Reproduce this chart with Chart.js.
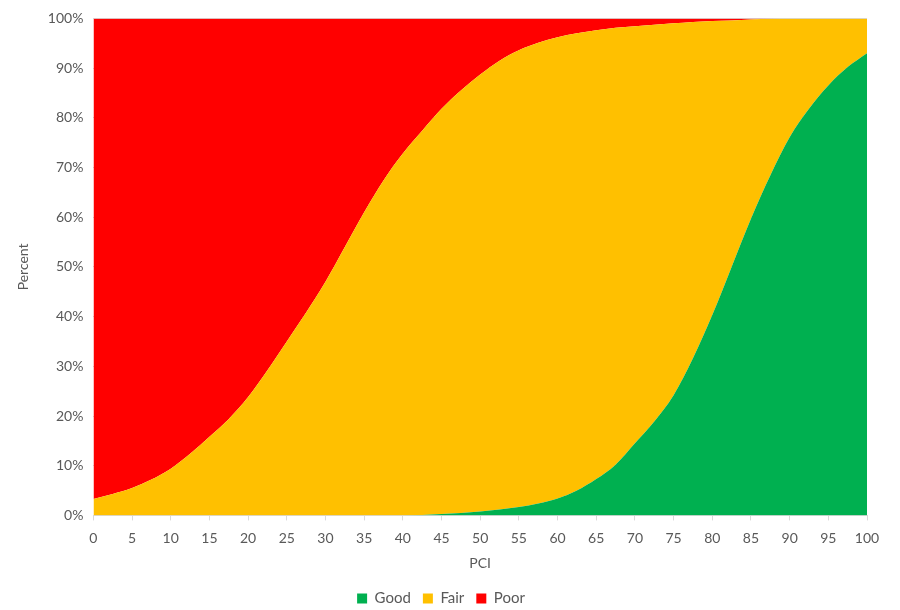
<!DOCTYPE html>
<html>
<head>
<meta charset="utf-8">
<script src="https://cdn.jsdelivr.net/npm/chart.js@4/dist/chart.umd.min.js"></script>
<style>
  html, body { margin: 0; padding: 0; background: #fff; }
  #wrap { width: 900px; height: 610px; }
</style>
</head>
<body>
<div id="wrap"><canvas id="pciChart" width="900" height="610"></canvas></div>
<script>
// PCI values (x axis)
const pci = [0, 2.5, 5, 7.5, 10, 12.5, 15, 17.5, 20, 22.5, 25, 27.5, 30, 32.5, 35, 37.5, 40,
  42.5, 45, 47.5, 50, 52.5, 55, 57.5, 60, 62.5, 65, 67.5, 70, 72.5, 75, 77.5, 80,
  82.5, 85, 87.5, 90, 92.5, 95, 97.5, 100];

// percent of sections in each condition class
const good = [0, 0, 0, 0, 0, 0, 0, 0, 0, 0, 0, 0, 0, 0, 0, 0, 0,
  0.1, 0.3, 0.5, 0.8, 1.2, 1.7, 2.4, 3.4, 5.0, 7.3, 10.2, 14.5, 18.9, 24.2, 31.6, 40.3,
  50.0, 59.7, 68.4, 76.1, 81.8, 86.5, 90.2, 93.0];
const fair = [3.3, 4.3, 5.5, 7.2, 9.4, 12.4, 15.8, 19.4, 23.8, 29.2, 35.0, 40.8, 47.0, 54.0, 61.0, 67.4, 72.8,
  77.3, 81.5, 85.0, 87.9, 90.3, 91.9, 92.7, 92.8, 92.0, 90.3, 87.9, 83.9, 79.8, 74.8, 67.7, 59.2,
  49.6, 40.1, 31.55, 23.9, 18.2, 13.5, 9.8, 7.0];
const poor = [96.7, 95.7, 94.5, 92.8, 90.6, 87.6, 84.2, 80.6, 76.2, 70.8, 65.0, 59.2, 53.0, 46.0, 39.0, 32.6, 27.2,
  22.6, 18.2, 14.5, 11.3, 8.5, 6.4, 4.9, 3.8, 3.0, 2.4, 1.9, 1.6, 1.3, 1.0, 0.7, 0.5,
  0.4, 0.2, 0.05, 0, 0, 0, 0, 0];

const xTicks = [0, 5, 10, 15, 20, 25, 30, 35, 40, 45, 50, 55, 60, 65, 70, 75, 80, 85, 90, 95, 100];

const textColor = "#595959";
const fontFace = "Lato, 'Open Sans', sans-serif";

function pts(vals) {
  return pci.map((x, i) => ({ x: x, y: vals[i] }));
}

function areaSet(label, vals, color, fill) {
  return {
    label: label,
    data: pts(vals),
    backgroundColor: color,
    borderColor: color,
    borderWidth: 0,
    pointRadius: 0,
    fill: fill,
    cubicInterpolationMode: "monotone"
  };
}

const ctx = document.getElementById("pciChart").getContext("2d");

new Chart(ctx, {
  type: "line",
  data: {
    datasets: [
      areaSet("Good", good, "#00b050", "origin"),
      areaSet("Fair", fair, "#ffc000", "-1"),
      areaSet("Poor", poor, "#ff0000", "-1")
    ]
  },
  options: {
    responsive: false,
    animation: false,
    layout: {
      padding: { left: 15, right: 33, top: 7, bottom: -6 }
    },
    plugins: {
      tooltip: { enabled: false },
      legend: {
        position: "bottom",
        labels: {
          color: textColor,
          font: { family: fontFace, size: 15 },
          boxWidth: 10,
          boxHeight: 10,
          padding: 12
        }
      }
    },
    scales: {
      x: {
        type: "linear",
        min: 0,
        max: 100,
        afterBuildTicks: (axis) => { axis.ticks = xTicks.map(v => ({ value: v })); },
        ticks: {
          color: textColor,
          font: { family: fontFace, size: 14 },
          maxRotation: 0,
          padding: 10
        },
        grid: {
          display: true,
          drawOnChartArea: false,
          drawTicks: true,
          tickLength: 5,
          color: "#d9d9d9"
        },
        border: { display: true, color: "#d9d9d9" },
        title: {
          display: true,
          text: "PCI",
          color: textColor,
          font: { family: fontFace, size: 14 },
          padding: { top: -2, bottom: 7 }
        }
      },
      y: {
        stacked: true,
        min: 0,
        max: 100,
        ticks: {
          stepSize: 10,
          color: textColor,
          font: { family: fontFace, size: 14 },
          padding: 10,
          callback: (v) => v + "%"
        },
        grid: {
          color: "#d9d9d9",
          drawTicks: false
        },
        border: { display: false },
        title: {
          display: true,
          text: "Percent",
          color: textColor,
          font: { family: fontFace, size: 14 },
          padding: { top: 0, bottom: 6 }
        }
      }
    }
  }
});
</script>
</body>
</html>
